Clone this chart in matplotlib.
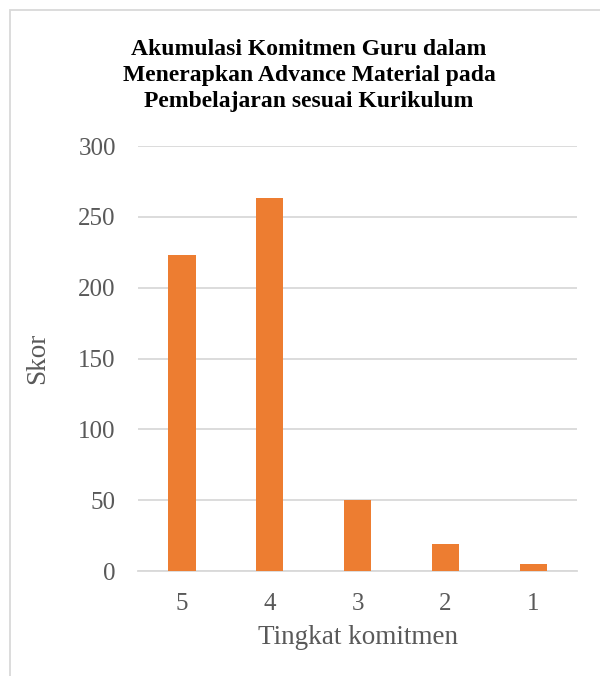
import matplotlib
matplotlib.use("Agg")
import matplotlib.pyplot as plt
from matplotlib.patches import Rectangle

# data
categories = ["5", "4", "3", "2", "1"]
scores = [223, 263, 50, 19, 5]
yticks = [0, 50, 100, 150, 200, 250, 300]

title = ("Akumulasi Komitmen Guru dalam\n"
         "Menerapkan Advance Material pada\n"
         "Pembelajaran sesuai Kurikulum")

plt.rcParams["font.family"] = ["Liberation Serif", "DejaVu Serif"]

fig = plt.figure(figsize=(6.0, 6.76), dpi=100)
ax = fig.add_axes([0.23, 0.155, 0.732, 0.629])

x = range(len(categories))
ax.bar(x, scores, width=0.31, color="#ED7D31", zorder=3)

ax.set_xlim(-0.5, len(categories) - 0.5)
ax.set_ylim(0, 300)
ax.set_yticks(yticks)
ax.set_xticks(list(x))
ax.set_xticklabels(categories)
ax.grid(axis="y", color="#D9D9D9", linewidth=1.3, zorder=0)
for s in ("top", "right", "left"):
    ax.spines[s].set_visible(False)
ax.spines["bottom"].set_color("#D9D9D9")
ax.spines["bottom"].set_linewidth(1.3)
ax.tick_params(axis="both", length=0, labelsize=18, colors="#595959")
ax.tick_params(axis="x", pad=16)
ax.tick_params(axis="y", pad=16)

ax.set_xlabel("Tingkat komitmen", fontsize=19.5, color="#595959", labelpad=7)
ax.set_ylabel("Skor", fontsize=19.5, color="#595959", labelpad=20)

fig.text(0.515, 0.942, title, ha="center", va="top", fontsize=17,
         fontweight="bold", color="black", linespacing=1.32)

# chart area border (runs off the right and bottom edges)
fig.patches.append(Rectangle((10 / 600, -0.05), 1.0, 1 - 10 / 676 + 0.05,
                             transform=fig.transFigure, fill=False,
                             edgecolor="#D9D9D9", linewidth=1.3))

fig.savefig("out.png", dpi=100, facecolor="white")
